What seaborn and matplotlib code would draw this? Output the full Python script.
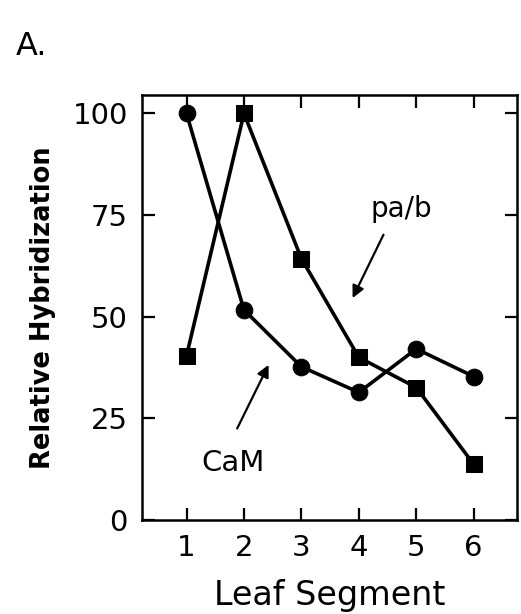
import numpy as np
import pandas as pd
import seaborn as sns
import matplotlib
matplotlib.use("Agg")
import matplotlib.pyplot as plt

# data
segments = [1, 2, 3, 4, 5, 6]
cam = [100, 51.7, 37.7, 31.4, 42.1, 35.3]
pab = [40.4, 100, 64.3, 40.0, 32.6, 13.7]
yticks = [0, 25, 50, 75, 100]

sns.set_style("ticks", {'text.color': 'black', 'axes.labelcolor': 'black',
                        'xtick.color': 'black', 'ytick.color': 'black',
                        'axes.edgecolor': 'black'})
plt.rcParams['font.family'] = ['DejaVu Sans']

fig = plt.figure(figsize=(5.21, 6.14), dpi=100)
ax = fig.add_axes([0.272, 0.153, 0.72, 0.692])

df_cam = pd.DataFrame({'seg': segments, 'val': cam})
df_pab = pd.DataFrame({'seg': segments, 'val': pab})
sns.lineplot(data=df_cam, x='seg', y='val', ax=ax, color='black', lw=2.6,
             marker='o', markersize=12, markeredgecolor='black')
sns.lineplot(data=df_pab, x='seg', y='val', ax=ax, color='black', lw=2.6,
             marker='s', markersize=11, markeredgecolor='black')

ax.set_xlim(0.22, 6.75)
ax.set_ylim(0, 104.5)
ax.set_xticks(segments)
ax.set_yticks(yticks)
ax.tick_params(direction='in', length=9, width=1.6, top=True, right=True,
               labelsize=21, pad=10, colors='black')
for s in ax.spines.values():
    s.set_linewidth(1.8)
    s.set_color('black')

ax.set_xlabel('Leaf Segment', fontsize=24, labelpad=12, color='black')
ax.set_ylabel('Relative Hybridization', fontsize=18.5, fontweight='bold',
              labelpad=12, color='black')

ax.annotate('', xy=(3.87, 54.0), xytext=(4.45, 70.8),
            arrowprops=dict(arrowstyle='-|>', color='black', lw=1.6, mutation_scale=18))
ax.text(4.74, 76.5, 'pa/b', fontsize=20, ha='center', va='center', color='black')
ax.annotate('', xy=(2.45, 38.8), xytext=(1.86, 21.9),
            arrowprops=dict(arrowstyle='-|>', color='black', lw=1.6, mutation_scale=18))
ax.text(1.81, 14.1, 'CaM', fontsize=21, ha='center', va='center', color='black')

fig.text(0.03, 0.925, 'A.', fontsize=23, ha='left', va='center', color='black')

fig.savefig('out.png', dpi=100)
